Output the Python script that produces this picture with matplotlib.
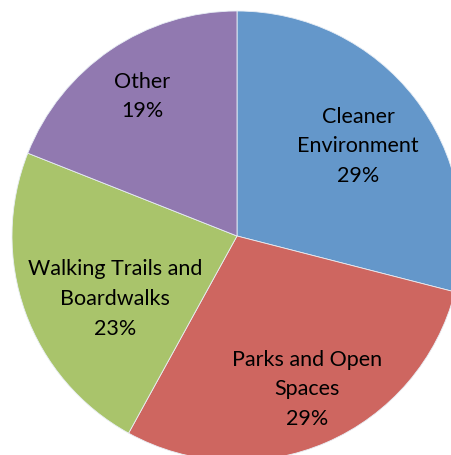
import matplotlib.pyplot as plt
import numpy as np

plt.rcParams['font.family'] = ['Lato', 'DejaVu Sans']

# data
labels = ['Cleaner\nEnvironment', 'Parks and Open\nSpaces', 'Walking Trails and\nBoardwalks', 'Other']
shares = [29, 29, 23, 19]
colors = ['#6497CA', '#CE6660', '#A9C46B', '#9179B0']
label_r = [0.67, 0.75, 0.61, 0.75]   # how far out each label sits
label_shift = [-1.2, 1.2, 7.5, 0.0]  # small angle tweaks (deg)

fig = plt.figure(figsize=(4.52, 4.55), dpi=100)
ax = fig.add_axes([0, 0, 1, 1])

wedges, _ = ax.pie(shares, colors=colors, startangle=90, counterclock=False,
                   radius=1.0, wedgeprops=dict(edgecolor='#e8eef5', linewidth=0.6))

for w, lab, pct, r, sh in zip(wedges, labels, shares, label_r, label_shift):
    mid = np.deg2rad((w.theta1 + w.theta2) / 2 + sh)
    ax.text(r * np.cos(mid), r * np.sin(mid), f'{lab}\n{pct}%', ha='center', va='center',
            fontsize=15.5, color='black', linespacing=1.6)

# place the pie as in the original (centre ~ (237,236) px, radius ~225 px)
px = 225.0
ax.set_xlim(-237 / px, (452 - 237) / px)
ax.set_ylim(-(455 - 236) / px, 236 / px)
ax.set_aspect('auto')
ax.axis('off')

fig.savefig('out.png', dpi=100)
